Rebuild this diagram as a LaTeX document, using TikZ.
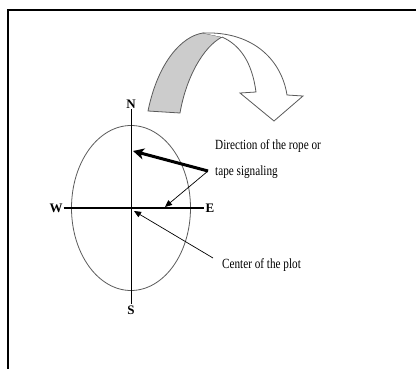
\documentclass[tikz,border=0pt]{standalone}
\usepackage{fontspec}
\setmainfont{Liberation Serif}
\newfontfamily\narrowfont{Liberation Serif}[FakeStretch=0.8]
\usetikzlibrary{arrows.meta,positioning}
\definecolor{ribbongray}{RGB}{204, 204, 204}
\definecolor{rimgray}{RGB}{90, 90, 90}

\begin{document}
\begin{tikzpicture}[
    x=1pt, y=-1pt,
    every node/.style={inner sep=1pt},
    pole/.style={font=\bfseries\fontsize{13}{15}\selectfont},
    note/.style={font=\narrowfont\fontsize{14}{26}\selectfont, align=left, anchor=west},
    rim/.style={draw=rimgray, line width=0.8pt},
    bold arrow/.style={line width=3pt, -{Stealth[length=11pt,width=11pt,inset=3pt]}},
    thin arrow/.style={line width=0.7pt, -{Triangle[length=7pt,width=6pt]}}
]
\useasboundingbox (0,0) rectangle (416,369);

% frame (cut on right and bottom)
\draw[line width=1.8pt] (416,10) -- (8,10) -- (8,369);

% turning arrow
\filldraw[fill=ribbongray, rim] (148,111) .. controls (158,62) and (182,36) .. (203,33)
    -- (222,37) .. controls (203,47) and (186,78) .. (180,113) -- cycle;
\filldraw[fill=white, rim] (203,33) .. controls (255,31) and (282,62) .. (287,95)
    -- (303,96) -- (274,121) -- (240,93) -- (256,92)
    .. controls (252,62) and (240,45) .. (222,37);

% compass
\node[pole] (N) at (131,104) {N};
\node[pole] (S) at (131,310) {S};
\node[pole] (W) at (56,208) {W};
\node[pole] (E) at (210,208) {E};
\coordinate (center) at (131,208);
\draw[rim] (center) ellipse [x radius=59.5, y radius=82.5];
\draw[line width=0.8pt] (N.south) -- (S.north);
\draw[line width=1.6pt] (W.east) -- (E.west);

% labels
\node[note] (rope) at (214,159) {Direction of the rope or\\tape signaling};
\node[note] (plot) at (221,265) {Center of the plot};
\coordinate (src) at (208,171);

% connectors
\draw[bold arrow] (src) -- (133,151);
\draw[thin arrow] (src) -- (165,207);
\draw[thin arrow] (plot.west) ++(-8,-7) coordinate (tail) (tail) -- (134,211);

\end{tikzpicture}
\end{document}
